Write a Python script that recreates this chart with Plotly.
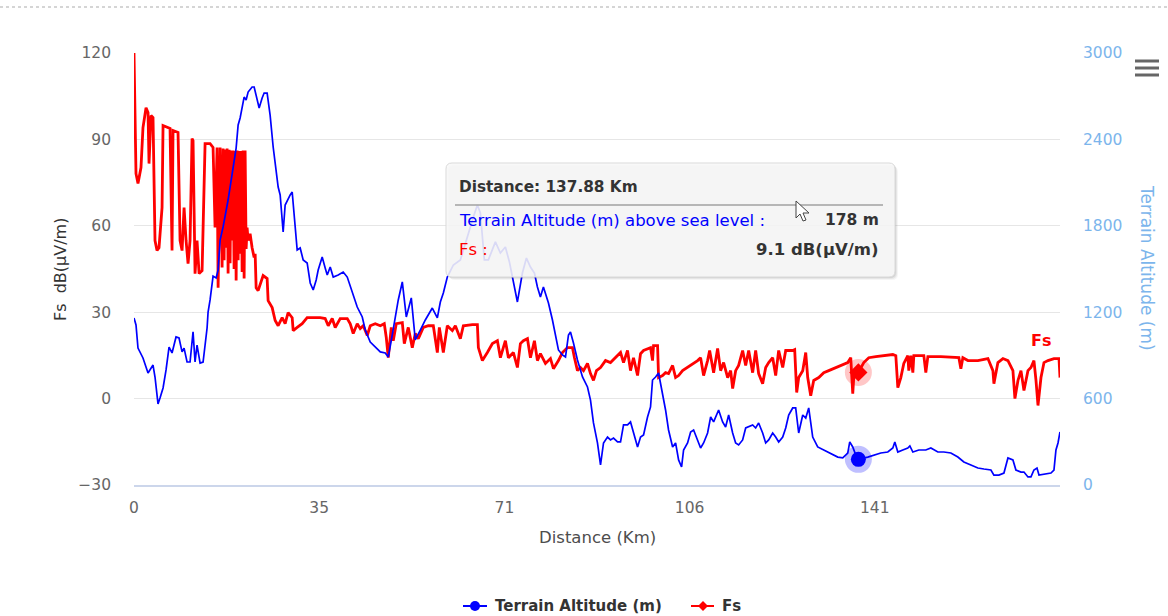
import plotly.graph_objects as go

# ---- Terrain profile (distance in km, altitude in m above sea level) ----
terrain_km = [
    0.0, 0.38, 0.76, 1.71, 2.67, 3.24, 3.62, 4.00, 4.57, 4.95, 5.53, 6.10, 6.67, 7.24, 8.00, 8.57,
    9.15, 9.53, 10.10, 10.67, 11.24, 11.62, 12.00, 12.58, 13.15, 13.91, 14.10, 14.48, 14.86, 15.05,
    15.63, 16.01, 16.39, 16.96, 17.91, 18.67, 19.44, 19.82, 20.20, 20.96, 21.34, 21.72, 22.48, 22.87,
    23.44, 23.82, 24.39, 24.77, 25.34, 25.91, 26.49, 27.06, 27.44, 27.82, 28.39, 28.77, 29.34, 29.73,
    30.11, 30.49, 31.06, 31.63, 32.20, 32.96, 33.54, 34.11, 34.68, 35.06, 35.82, 36.39, 36.78, 37.35,
    37.92, 38.87, 39.82, 40.59, 41.54, 42.49, 43.45, 44.02, 44.97, 45.92, 46.88, 47.83, 48.40, 49.16,
    49.73, 50.30, 51.07, 51.83, 52.78, 53.54, 54.50, 55.45, 56.78, 57.74, 58.31, 58.88, 59.64, 60.79,
    62.12, 62.88, 63.45, 64.60, 65.36, 65.93, 66.69, 67.45, 68.22, 68.79, 69.74, 70.69, 71.46, 72.03,
    72.98, 73.93, 74.70, 75.46, 76.22, 76.79, 77.36, 77.93, 78.89, 79.65, 80.22, 80.79, 81.55, 82.13,
    82.70, 83.08, 83.65, 84.41, 85.37, 86.32, 86.89, 87.46, 88.22, 88.80, 89.37, 90.13, 90.70, 91.27,
    92.04, 92.61, 93.18, 93.94, 94.51, 95.08, 95.85, 96.42, 96.99, 97.75, 98.32, 98.70, 99.28, 99.85,
    100.61, 101.18, 101.75, 102.52, 103.09, 103.66, 104.23, 104.61, 105.37, 105.95, 106.52, 107.28,
    107.85, 108.42, 109.18, 109.76, 110.33, 111.28, 112.04, 112.61, 113.19, 113.95, 114.52, 115.09,
    115.85, 116.43, 117.00, 117.76, 118.33, 118.90, 119.66, 120.24, 120.81, 121.57, 122.14, 122.71,
    123.48, 124.05, 124.62, 125.38, 125.95, 126.52, 127.29, 127.86, 128.43, 129.19, 130.14, 131.29,
    132.62, 133.96, 134.91, 135.86, 136.24, 136.81, 137.39, 137.88, 139.67, 140.82, 142.15, 143.48,
    144.44, 144.82, 145.39, 146.34, 147.29, 147.68, 148.25, 149.39, 150.72, 151.68, 153.01, 154.15,
    155.49, 156.82, 157.96, 159.30, 160.63, 161.78, 163.11, 163.68, 164.63, 165.59, 166.35, 167.30,
    167.87, 168.83, 169.40, 170.16, 170.73, 171.30, 171.88, 172.26, 173.21, 174.54, 175.11, 175.49,
    175.88, 176.26,
]
terrain_alt = [
    1160, 1111, 951, 882, 778, 812, 833, 750, 563, 604, 674, 799, 958, 917, 1028, 1021,
    924, 951, 854, 854, 1063, 854, 972, 847, 854, 1090, 1201, 1285, 1410, 1451,
    1438, 1493, 1701, 1792, 1979, 2167, 2340, 2500, 2549, 2694, 2674, 2729, 2764, 2764,
    2688, 2618, 2688, 2722, 2722, 2569, 2347, 2188, 2069, 2014, 1757, 1944, 1993, 2014,
    2035, 1875, 1632, 1646, 1563, 1542, 1403, 1354, 1424, 1493, 1583, 1507, 1458, 1514,
    1444, 1458, 1479, 1444, 1333, 1236, 1167, 1076, 993, 958, 924, 917, 889, 1042,
    1160, 1285, 1410, 1167, 1299, 1007, 1076, 1146, 1229, 1160, 1271, 1333, 1444, 1528,
    1563, 1646, 1722, 1861, 1944, 1889, 1563, 1563, 1632, 1688, 1611, 1653, 1549, 1444,
    1271, 1472, 1576, 1514, 1472, 1375, 1306, 1375, 1264, 1146, 1028, 938, 903, 889,
    1042, 1063, 986, 868, 750, 681, 590, 431, 292, 139, 292, 333, 313, 326,
    299, 299, 417, 417, 438, 361, 264, 333, 347, 472, 542, 729, 750, 778,
    639, 521, 382, 264, 292, 174, 125, 243, 292, 368, 382, 313,
    257, 292, 361, 472, 438, 521, 438, 403, 486, 361, 292, 278,
    313, 396, 403, 417, 396, 431, 361, 292, 313, 361, 333, 299,
    333, 396, 486, 535, 535, 361, 486, 465, 535, 333, 264, 243,
    222, 194, 188, 222, 299, 264, 208, 178, 194, 208, 222, 229,
    257, 299, 229, 243, 257, 271, 229, 243, 243, 257, 229, 229,
    222, 194, 160, 139, 118, 111, 104, 69, 69, 83, 188, 174,
    104, 90, 90, 56, 56, 104, 118, 69, 76, 83, 104, 243,
    292, 368,
]

# ---- Field strength along the path (distance in km, Fs in dB(µV/m)) ----
fs_km = [
    0.0, 0.38, 0.76, 1.33, 1.71, 2.29, 2.67, 2.86, 3.24, 3.62, 4.00, 4.38, 4.76, 5.34, 5.53, 6.48,
    6.86, 7.24, 7.43, 8.38, 8.77, 9.15, 9.53, 9.91, 10.29, 10.67, 11.05, 11.24, 11.62, 12.00,
    12.39, 12.96, 13.53, 14.48, 15.05, 15.43, 15.82, 16.01, 16.39, 16.77, 16.96, 17.15, 17.34,
    17.53, 17.72, 17.91, 18.10, 18.29, 18.48, 18.67, 18.86, 19.05, 19.25, 19.44, 19.63, 19.82,
    20.01, 20.20, 20.39, 20.58, 20.77, 20.96, 21.15, 21.34, 21.53, 21.72, 22.10,
    22.48, 22.87, 23.06, 23.25, 23.63, 24.58, 25.34, 25.53, 26.30, 26.87, 27.44, 28.20, 28.77,
    29.34, 30.11, 30.30, 31.06, 32.01, 32.96, 34.11, 35.44, 36.39, 36.97, 37.73, 38.30, 39.25,
    40.59, 41.16, 41.73, 42.49, 43.06, 43.64, 44.40, 44.97, 45.92, 46.88, 47.64, 48.02, 48.40,
    48.97, 49.35, 49.92, 51.07, 51.45, 52.21, 52.97, 53.54, 54.12, 55.07, 56.02, 56.97, 57.74,
    58.12, 58.88, 59.64, 60.59, 61.17, 62.12, 62.69, 64.41, 65.36, 65.55, 66.31, 67.26, 68.22,
    69.17, 69.74, 70.69, 71.27, 72.22, 72.98, 73.55, 74.12, 74.89, 75.46, 76.22, 76.79, 77.36,
    78.32, 79.27, 79.84, 80.79, 81.55, 82.51, 83.46, 83.84, 84.41, 84.98, 85.56, 86.32, 86.89,
    87.46, 88.03, 88.80, 89.75, 90.70, 91.65, 92.61, 93.18, 93.94, 94.51, 95.08, 95.85, 96.42,
    96.99, 97.75, 98.32, 98.70, 98.89, 99.66, 99.85, 100.61, 101.18, 101.75, 102.52, 103.09,
    103.66, 104.42, 105.37, 106.33, 107.28, 107.85, 108.42, 109.18, 109.57, 110.33, 111.09,
    111.66, 112.23, 113.00, 113.57, 113.95, 114.52, 115.09, 115.85, 116.43, 117.00, 117.76,
    118.33, 118.90, 119.66, 120.24, 120.81, 121.57, 122.14, 122.71, 123.48, 124.05, 124.62,
    125.38, 125.76, 126.14, 126.52, 127.29, 127.86, 128.24, 128.81, 129.38, 130.34, 131.29,
    132.24, 133.19, 134.53, 135.86, 136.43, 136.81, 137.00, 137.88, 138.91, 139.86, 141.20,
    142.72, 144.44, 145.01, 145.39, 145.96, 146.53, 147.29, 147.48, 147.87, 148.25, 148.44,
    149.39, 150.34, 150.72, 151.11, 153.58, 156.06, 157.01, 157.39, 157.77, 158.73, 160.63,
    162.54, 163.49, 163.68, 164.44, 165.40, 166.35, 167.30, 167.68, 168.26, 168.83, 169.40,
    170.16, 170.73, 171.30, 171.69, 172.07, 172.64, 173.21, 173.97, 175.11, 176.07, 176.26,
]
fs_db = [
    120.0, 78.1, 74.7, 80.2, 94.1, 101.0, 99.3, 81.6, 98.3, 97.6, 54.9, 51.4, 52.4, 66.3, 94.8, 94.1,
    93.8, 51.4, 93.1, 92.4, 54.9, 51.4, 66.3, 54.9, 46.9, 54.9, 90.3, 89.6, 43.4, 54.9,
    43.4, 44.4, 88.5, 88.5, 87.2, 59.4, 87.2, 38.5, 87.2, 45.5, 86.8, 48.0, 86.5,
    52.4, 86.8, 43.4, 86.4, 47.0, 86.1, 54.9, 86.1, 45.0, 86.0, 41.0, 86.1, 48.0,
    86.0, 50.3, 86.0, 44.0, 86.1, 41.7, 86.1, 52.0, 59.4, 54.9, 57.3,
    52.4, 49.0, 50.3, 38.5, 37.5, 42.7, 41.7, 34.0, 31.6, 27.1, 25.3, 28.1, 26.0,
    29.9, 28.1, 23.6, 24.7, 26.0, 28.1, 28.1, 28.1, 27.8, 25.3, 27.8, 24.7, 27.8,
    27.8, 26.0, 22.6, 26.0, 24.3, 25.3, 21.9, 25.3, 26.0, 25.3, 26.0, 21.2, 14.2,
    24.7, 20.1, 26.0, 26.4, 19.1, 24.7, 17.7, 22.6, 20.8, 24.7, 25.3, 25.3, 16.0,
    24.7, 16.0, 25.3, 23.6, 25.3, 20.8, 25.3, 25.7, 25.7, 17.7, 13.2, 16.0, 19.1,
    20.1, 14.2, 20.1, 14.2, 16.0, 10.8, 19.1, 20.1, 20.8, 14.2, 20.1, 13.2, 15.6,
    12.2, 13.9, 10.4, 13.2, 16.0, 17.7, 17.7, 14.2, 9.7, 10.8, 9.7, 12.2, 8.7,
    6.3, 9.7, 10.8, 13.2, 12.5, 14.2, 16.0, 12.5, 16.7, 9.7, 14.2, 8.0, 15.6,
    16.7, 17.4, 17.7, 13.2, 18.4, 18.4, 7.3, 8.0, 9.0, 8.7, 11.5, 7.3,
    8.0, 9.7, 10.8, 12.2, 13.2, 14.2, 8.0, 13.2, 16.7, 9.0, 17.4,
    9.7, 12.5, 7.3, 9.7, 3.5, 9.7, 11.5, 16.7, 11.5, 16.7, 9.0,
    16.7, 8.7, 5.2, 10.8, 12.5, 14.2, 8.0, 16.7, 10.8, 16.7, 16.7,
    16.7, 17.0, 2.1, 7.3, 9.7, 16.0, 7.3, 1.0, 6.3, 7.3, 9.0,
    9.7, 10.4, 11.5, 12.5, 14.2, 1.7, 7.3, 9.1, 12.5, 14.2, 14.6,
    14.9, 15.3, 14.9, 3.8, 7.3, 12.2, 14.9, 9.7, 14.9, 9.0, 14.9,
    14.9, 14.9, 9.0, 14.6, 14.6, 14.2, 14.2, 10.4, 14.2, 13.2, 13.2,
    13.9, 9.7, 5.2, 12.5, 13.9, 13.2, 9.7, 0.0, 6.3, 9.7, 2.8,
    9.7, 10.8, 13.2, 6.3, -2.4, 7.3, 12.5, 13.2, 13.9, 13.9, 7.3,
]

# ---- Axis ticks ----
x_tick_vals = [0, 35.25, 70.5, 105.75, 141]
x_tick_text = ["0", "35", "71", "106", "141"]
fs_tick_vals = [-30, 0, 30, 60, 90, 120]
alt_tick_vals = [0, 600, 1200, 1800, 2400, 3000]

# Highlighted (hovered) sample
hover_km = 137.88
ti = terrain_km.index(hover_km)
fi = fs_km.index(hover_km)
hover_alt = terrain_alt[ti]
hover_fs = fs_db[fi]

FONT = "DejaVu Sans"
BLUE, RED = "#0000ff", "#ff0000"
W, H = 1168, 616
L, R, T, B = 134, 1060, 53, 485   # plot area in pixels


def pxx(x):
    return (x - L) / (R - L)


def pxy(y):
    return (B - y) / (B - T)


fig = go.Figure()

fig.add_trace(go.Scatter(
    x=terrain_km, y=terrain_alt, yaxis="y2", mode="lines",
    line=dict(color=BLUE, width=1.7), name="Terrain Altitude (m)",
))
fig.add_trace(go.Scatter(
    x=fs_km, y=fs_db, mode="lines",
    line=dict(color=RED, width=2.8), name="Fs",
))

# hover halos and markers
fig.add_trace(go.Scatter(
    x=[terrain_km[ti]], y=[hover_alt], yaxis="y2", mode="markers",
    marker=dict(size=27, color="rgba(0,0,255,0.25)", line=dict(width=0)), hoverinfo="skip",
))
fig.add_trace(go.Scatter(
    x=[terrain_km[ti]], y=[hover_alt], yaxis="y2", mode="markers",
    marker=dict(size=15, color=BLUE, line=dict(width=0)), hoverinfo="skip",
))
fig.add_trace(go.Scatter(
    x=[fs_km[fi]], y=[hover_fs], mode="markers",
    marker=dict(size=27, color="rgba(255,0,0,0.22)", line=dict(width=0)), hoverinfo="skip",
))
fig.add_trace(go.Scatter(
    x=[fs_km[fi]], y=[hover_fs], mode="markers",
    marker=dict(size=14, symbol="diamond", color=RED, line=dict(width=0)), hoverinfo="skip",
))

shapes = []
# dotted rule at the top of the page
shapes.append(dict(type="line", xref="paper", yref="paper", x0=pxx(0), x1=pxx(W), y0=pxy(7), y1=pxy(7),
                   line=dict(color="#c8c8c8", width=1.5, dash="dot")))
# export menu icon
for yy in (61, 68, 75):
    shapes.append(dict(type="line", xref="paper", yref="paper", x0=pxx(1135), x1=pxx(1159),
                       y0=pxy(yy), y1=pxy(yy), line=dict(color="#666666", width=3)))


def rounded_rect(x0, y0, x1, y1, r):
    return (f"M {pxx(x0 + r)},{pxy(y0)} L {pxx(x1 - r)},{pxy(y0)} "
            f"Q {pxx(x1)},{pxy(y0)} {pxx(x1)},{pxy(y0 + r)} L {pxx(x1)},{pxy(y1 - r)} "
            f"Q {pxx(x1)},{pxy(y1)} {pxx(x1 - r)},{pxy(y1)} L {pxx(x0 + r)},{pxy(y1)} "
            f"Q {pxx(x0)},{pxy(y1)} {pxx(x0)},{pxy(y1 - r)} L {pxx(x0)},{pxy(y0 + r)} "
            f"Q {pxx(x0)},{pxy(y0)} {pxx(x0 + r)},{pxy(y0)} Z")


# tooltip shadow, box and separator
for off, alpha in ((3, 0.04), (2, 0.06), (1, 0.08)):
    shapes.append(dict(type="path", xref="paper", yref="paper",
                       path=rounded_rect(446 + off, 163 + off, 895 + off, 277 + off, 6),
                       fillcolor=f"rgba(0,0,0,{alpha})", line=dict(width=0)))
shapes.append(dict(type="path", xref="paper", yref="paper", path=rounded_rect(446, 163, 895, 277, 6),
                   fillcolor="rgba(249,249,249,0.87)", line=dict(color="#d9d9d9", width=1)))
shapes.append(dict(type="line", xref="paper", yref="paper", x0=pxx(455), x1=pxx(883),
                   y0=pxy(205), y1=pxy(205), line=dict(color="#a0a0a0", width=1.5)))
# mouse pointer
cursor = [(796, 201), (796, 218), (800, 214), (803, 221), (806, 220), (803, 213), (809, 213)]
cpath = "M " + " L ".join(f"{pxx(a)},{pxy(b)}" for a, b in cursor) + " Z"
shapes.append(dict(type="path", xref="paper", yref="paper", path=cpath,
                   fillcolor="white", line=dict(color="#444444", width=1)))

# legend: line + symbol for each series
LEG_Y = 606
shapes.append(dict(type="line", xref="paper", yref="paper", x0=pxx(463), x1=pxx(487),
                   y0=pxy(LEG_Y), y1=pxy(LEG_Y), line=dict(color=BLUE, width=2)))
shapes.append(dict(type="circle", xref="paper", yref="paper", x0=pxx(470), x1=pxx(480),
                   y0=pxy(LEG_Y + 5), y1=pxy(LEG_Y - 5), fillcolor=BLUE, line=dict(width=0)))
shapes.append(dict(type="line", xref="paper", yref="paper", x0=pxx(691), x1=pxx(714),
                   y0=pxy(LEG_Y), y1=pxy(LEG_Y), line=dict(color=RED, width=2)))
dia = [(703, LEG_Y - 5), (708, LEG_Y), (703, LEG_Y + 5), (698, LEG_Y)]
shapes.append(dict(type="path", xref="paper", yref="paper",
                   path="M " + " L ".join(f"{pxx(a)},{pxy(b)}" for a, b in dia) + " Z",
                   fillcolor=RED, line=dict(width=0)))


def note(x, y, text, size, color, xanchor="left", angle=0):
    return dict(x=pxx(x), y=pxy(y), xref="paper", yref="paper", xanchor=xanchor, yanchor="middle",
                text=text, textangle=angle, showarrow=False,
                font=dict(family=FONT, size=size, color=color))


annotations = [
    note(457, 187, "<b>Distance: %.2f Km</b>" % hover_km, 15.3, "#333333"),
    note(457, 220, "Terrain Altitude (m) above sea level :", 16.5, BLUE),
    note(881, 220, "<b>%d m</b>" % hover_alt, 15.5, "#333333", "right"),
    note(457, 249, "Fs :", 16.5, RED),
    note(881, 249, "<b>%.1f dB(µV/m)</b>" % hover_fs, 16.5, "#333333", "right"),
    # series label
    note(1041, 340, "<b>Fs</b>", 16, RED, "center"),
    # axis titles
    note(60, 270, "Fs&nbsp; dB(µV/m)", 16, "#333333", "center", -90),
    note(1147, 268, "Terrain Altitude (m)", 17, "#7cb5ec", "center", 90),
    note(597, 537, "Distance (Km)", 16.5, "#4d4d4d", "center"),
    # legend labels
    note(493, LEG_Y, "<b>Terrain Altitude (m)</b>", 15, "#333333"),
    note(720, LEG_Y, "<b>Fs</b>", 15, "#333333"),
]

fig.update_layout(
    width=W, height=H,
    margin=dict(l=L, r=W - R, t=T, b=H - B, pad=0),
    paper_bgcolor="white", plot_bgcolor="white",
    font=dict(family=FONT, size=15, color="#666666"),
    showlegend=False,
    xaxis=dict(range=[0, terrain_km[-1]], tickvals=x_tick_vals, ticktext=x_tick_text,
               showgrid=False, zeroline=False, showline=True, linecolor="#ccd6eb", linewidth=1.5,
               ticks="", ticklabelstandoff=8, tickfont=dict(color="#666666", size=15.5)),
    yaxis=dict(range=[-30, 120], tickvals=fs_tick_vals, showgrid=True, gridcolor="#e6e6e6",
               gridwidth=1, zeroline=False, ticks="", ticklabelstandoff=22,
               tickfont=dict(color="#666666", size=15.5)),
    yaxis2=dict(range=[0, 3000], tickvals=alt_tick_vals, overlaying="y", side="right",
                showgrid=False, zeroline=False, ticks="", ticklabelstandoff=22,
                tickfont=dict(color="#7cb5ec", size=15.5)),
    shapes=shapes,
    annotations=annotations,
    hovermode=False,
)

fig.write_html("out.html")
